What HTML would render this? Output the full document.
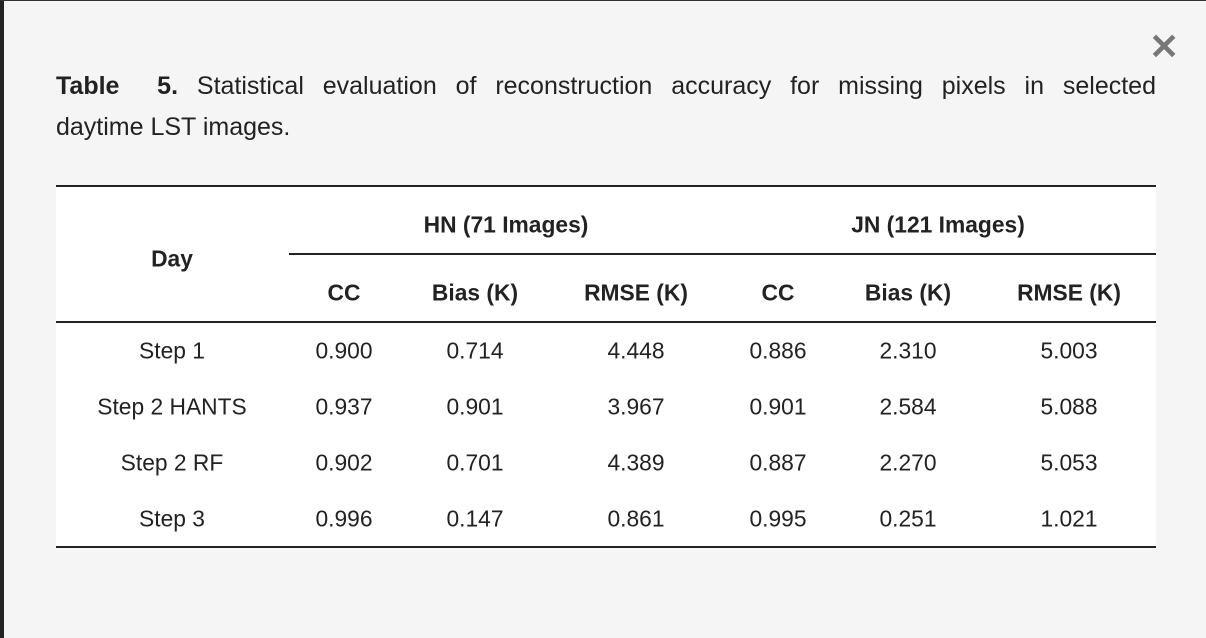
<!DOCTYPE html>
<html><head><meta charset="utf-8"><style>
html,body{margin:0;padding:0}
body{width:1206px;height:638px;background:#f5f5f5;position:relative;overflow:hidden;font-family:"Liberation Sans",Arial,sans-serif;color:#222}
.lb{position:absolute;left:0;top:0;width:4px;height:638px;background:#222}
.tb{position:absolute;left:0;top:0;width:1206px;height:1px;background:#333}
.cap{position:absolute;left:56px;width:1100px;font-size:25px;line-height:38px;white-space:nowrap}
.j{text-align:justify;text-align-last:justify}
.tbl{position:absolute;left:56px;top:185px;width:1100px;height:363px;background:#fff}
.ln{position:absolute;height:2px;background:#222}
.c{position:absolute;transform:translate(-50%,-50%);font-size:22.8px;white-space:nowrap}
.b{font-weight:bold}
.x{position:absolute;left:1149px;top:26px;font-size:36px;color:#777;font-weight:bold}
</style></head><body>
<div class="lb"></div><div class="tb"></div>
<div class="x">✕</div>
<div class="cap j" style="top:67px;white-space:normal"><b>Table&nbsp; 5.</b> Statistical evaluation of reconstruction accuracy for missing pixels in selected</div>
<div class="cap" style="top:108px">daytime LST images.</div>
<div class="tbl"></div>
<div class="ln" style="left:56px;top:185px;width:1100px"></div>
<div class="ln" style="left:289px;top:253px;width:867px"></div>
<div class="ln" style="left:56px;top:321px;width:1100px"></div>
<div class="ln" style="left:56px;top:546px;width:1100px"></div>

<div class="c b" style="left:506px;top:225px">HN (71 Images)</div>
<div class="c b" style="left:938px;top:225px">JN (121 Images)</div>
<div class="c b" style="left:172px;top:259px">Day</div>
<div class="c b" style="left:344px;top:293px">CC</div>
<div class="c b" style="left:475px;top:293px">Bias (K)</div>
<div class="c b" style="left:636px;top:293px">RMSE (K)</div>
<div class="c b" style="left:778px;top:293px">CC</div>
<div class="c b" style="left:908px;top:293px">Bias (K)</div>
<div class="c b" style="left:1069px;top:293px">RMSE (K)</div>

<div class="c" style="left:172px;top:351px">Step 1</div>
<div class="c" style="left:344px;top:351px">0.900</div>
<div class="c" style="left:475px;top:351px">0.714</div>
<div class="c" style="left:636px;top:351px">4.448</div>
<div class="c" style="left:778px;top:351px">0.886</div>
<div class="c" style="left:908px;top:351px">2.310</div>
<div class="c" style="left:1069px;top:351px">5.003</div>

<div class="c" style="left:172px;top:407px">Step 2 HANTS</div>
<div class="c" style="left:344px;top:407px">0.937</div>
<div class="c" style="left:475px;top:407px">0.901</div>
<div class="c" style="left:636px;top:407px">3.967</div>
<div class="c" style="left:778px;top:407px">0.901</div>
<div class="c" style="left:908px;top:407px">2.584</div>
<div class="c" style="left:1069px;top:407px">5.088</div>

<div class="c" style="left:172px;top:463px">Step 2 RF</div>
<div class="c" style="left:344px;top:463px">0.902</div>
<div class="c" style="left:475px;top:463px">0.701</div>
<div class="c" style="left:636px;top:463px">4.389</div>
<div class="c" style="left:778px;top:463px">0.887</div>
<div class="c" style="left:908px;top:463px">2.270</div>
<div class="c" style="left:1069px;top:463px">5.053</div>

<div class="c" style="left:172px;top:519px">Step 3</div>
<div class="c" style="left:344px;top:519px">0.996</div>
<div class="c" style="left:475px;top:519px">0.147</div>
<div class="c" style="left:636px;top:519px">0.861</div>
<div class="c" style="left:778px;top:519px">0.995</div>
<div class="c" style="left:908px;top:519px">0.251</div>
<div class="c" style="left:1069px;top:519px">1.021</div>
</body></html>
